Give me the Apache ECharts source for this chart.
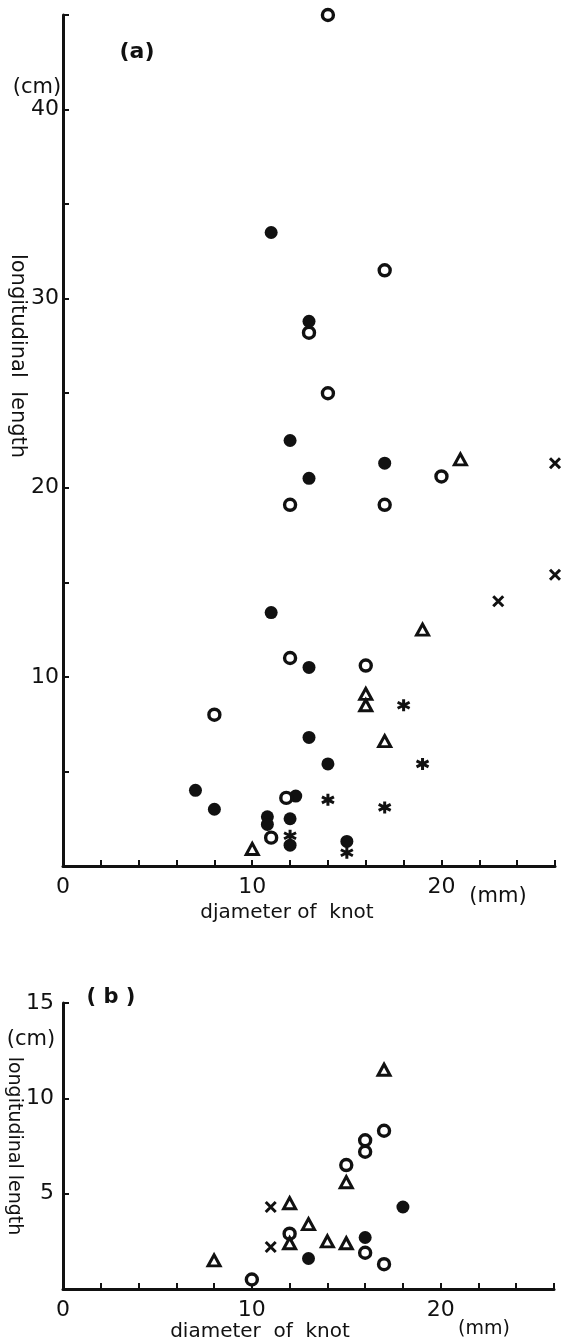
<!DOCTYPE html>
<html>
<head>
<meta charset="utf-8">
<script src="https://cdn.jsdelivr.net/npm/echarts@6/dist/echarts.min.js"></script>
<style>
  html, body { margin: 0; padding: 0; background: #fff; }
  #knot-chart { width: 561px; height: 1339px; }
</style>
</head>
<body>
<div id="knot-chart"></div>
<script>
// (a) diameter of knot (mm) vs longitudinal length (cm)
const aFilled = [[11, 33.5], [13, 28.8], [12, 22.5], [17, 21.3], [13, 20.5], [11, 13.4], [13, 10.5], [13, 6.8], [14, 5.4],
  [7, 4.0], [8, 3.0], [12.3, 3.7], [10.8, 2.6], [10.8, 2.2], [12, 2.5], [12, 1.1], [15, 1.3]];
const aOpen = [[14, 45], [17, 31.5], [13, 28.2], [14, 25], [20, 20.6], [12, 19.1], [17, 19.1], [12, 11], [16, 10.6],
  [8, 8], [11.8, 3.6], [11, 1.5]];
const aTriangle = [[21, 21.5], [19, 12.5], [16, 9.1], [16, 8.5], [17, 6.6], [10, 0.9]];
const aCross = [[26, 21.3], [26, 15.4], [23, 14]];
const aStar = [[18, 8.5], [19, 5.4], [14, 3.5], [17, 3.1], [12, 1.6], [15, 0.7]];

// (b)
const bFilled = [[18, 4.3], [16, 2.7], [13, 1.6]];
const bOpen = [[10, 0.5], [12, 2.9], [17, 8.3], [16, 7.8], [16, 7.2], [15, 6.5], [16, 1.9], [17, 1.3]];
const bTriangle = [[8, 1.5], [12, 4.5], [12, 2.4], [17, 11.5], [15, 5.6], [13, 3.4], [14, 2.5], [15, 2.4]];
const bCross = [[11, 4.3], [11, 2.2]];

const xLabels = [0, 10, 20];
const aYLabels = [10, 20, 30, 40];
const bYLabels = [5, 10, 15];

const ink = '#111';
const font = 'DejaVu Sans';

const CROSS = 'path://M0,0L10,10M10,0L0,10';
const STAR = 'path://M5,0L5,10M0.7,2.5L9.3,7.5M0.7,7.5L9.3,2.5';

function xAxisFor(grid) {
  return {
    type: 'value', gridIndex: grid, min: 0, max: 26, interval: 2,
    axisLine: {onZero: false, lineStyle: {color: ink, width: 3}},
    axisTick: {inside: true, length: 6, lineStyle: {color: ink, width: 2}},
    splitLine: {show: false},
    axisLabel: {
      color: ink, fontSize: 22, fontFamily: font, margin: 10,
      formatter: v => xLabels.includes(v) ? String(v) : ''
    }
  };
}

function yAxisFor(grid, max, labels, margin) {
  return {
    type: 'value', gridIndex: grid, min: 0, max: max, interval: 5,
    axisLine: {onZero: false, lineStyle: {color: ink, width: 3}},
    axisTick: {inside: true, length: 6, lineStyle: {color: ink, width: 2}},
    splitLine: {show: false},
    axisLabel: {
      color: ink, fontSize: 22, fontFamily: font, margin: margin,
      formatter: v => labels.includes(v) ? String(v) : ''
    }
  };
}

function dots(data, grid, kind) {
  const s = {type: 'scatter', data: data, xAxisIndex: grid, yAxisIndex: grid, silent: true};
  if (kind === 'filled') {
    s.symbol = 'circle'; s.symbolSize = 13;
    s.itemStyle = {color: ink, opacity: 1};
  } else if (kind === 'open') {
    s.symbol = 'circle'; s.symbolSize = 11;
    s.itemStyle = {color: '#fff', borderColor: ink, borderWidth: 3.4, opacity: 1};
  } else if (kind === 'triangle') {
    s.symbol = 'triangle'; s.symbolSize = [12, 11];
    s.itemStyle = {color: '#fff', borderColor: ink, borderWidth: 3, opacity: 1};
  } else if (kind === 'cross') {
    s.symbol = CROSS; s.symbolSize = 10;
    s.itemStyle = {color: 'rgba(0,0,0,0)', borderColor: ink, borderWidth: 3, opacity: 1};
  } else {
    s.symbol = STAR; s.symbolSize = 12;
    s.itemStyle = {color: 'rgba(0,0,0,0)', borderColor: ink, borderWidth: 3, opacity: 1};
  }
  return s;
}

function txt(text, x, y, size, extra) {
  return {
    type: 'text', x: x, y: y, rotation: (extra && extra.rotation) || 0,
    style: Object.assign({
      text: text, fill: ink, fontSize: size, fontFamily: font,
      textAlign: 'center', textVerticalAlign: 'middle'
    }, extra && extra.style)
  };
}

const option = {
  animation: false,
  backgroundColor: '#fff',
  grid: [
    {left: 63, top: 15, width: 492, height: 851},
    {left: 63, top: 1003, width: 491, height: 286}
  ],
  xAxis: [xAxisFor(0), xAxisFor(1)],
  yAxis: [yAxisFor(0, 45, aYLabels, 4), yAxisFor(1, 15, bYLabels, 9)],
  series: [
    dots(aFilled, 0, 'filled'),
    dots(aOpen, 0, 'open'),
    dots(aTriangle, 0, 'triangle'),
    dots(aCross, 0, 'cross'),
    dots(aStar, 0, 'star'),
    dots(bFilled, 1, 'filled'),
    dots(bOpen, 1, 'open'),
    dots(bTriangle, 1, 'triangle'),
    dots(bCross, 1, 'cross')
  ],
  graphic: [
    txt('(a)', 137, 52, 22, {style: {fontWeight: 600}}),
    txt('(cm)', 37, 88, 21),
    txt('longitudinal  length', 17, 356, 21, {rotation: -Math.PI / 2}),
    txt('(mm)', 498, 897, 21),
    txt('djameter of  knot', 287, 913, 20),
    txt('( b )', 111, 998, 21, {style: {fontWeight: 600}}),
    txt('(cm)', 31, 1040, 21),
    txt('longitudinal length', 14, 1146, 19, {rotation: -Math.PI / 2}),
    txt('(mm)', 484, 1329, 19),
    txt('diameter  of  knot', 260, 1332, 20)
  ]
};

const knotChart = echarts.init(document.getElementById('knot-chart'));
knotChart.setOption(option);
</script>
</body>
</html>
